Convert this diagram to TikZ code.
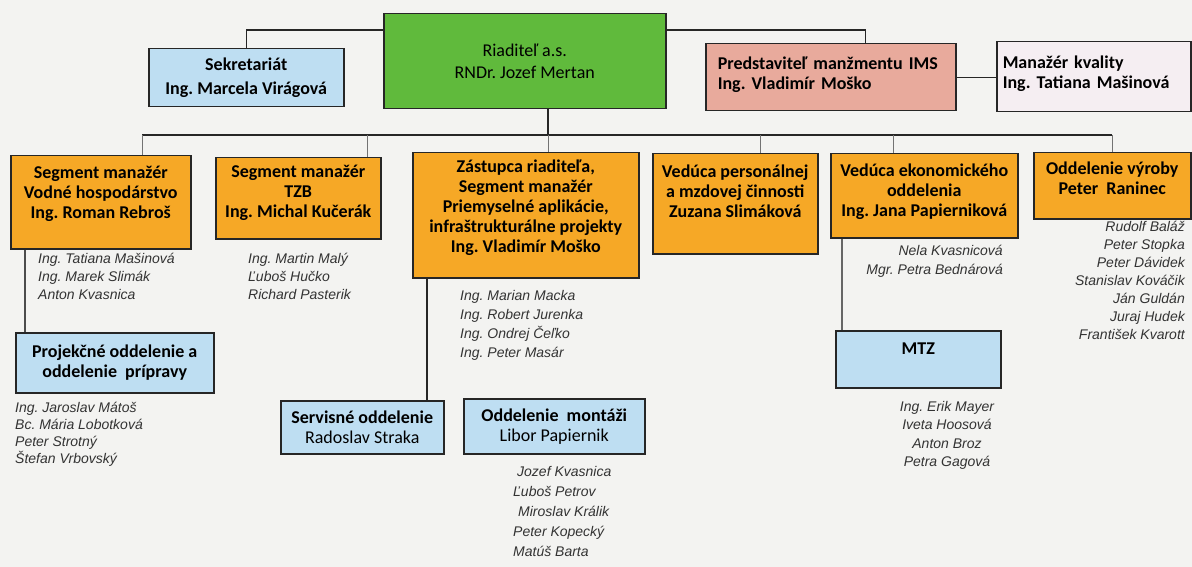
\documentclass[tikz,border=0pt]{standalone}
\usepackage{fontspec}
\setmainfont{Carlito}
\newfontfamily\stafffont{Liberation Sans}
\frenchspacing
\definecolor{paper}{RGB}{243,243,241}
\definecolor{dirgreen}{RGB}{96,186,60}
\definecolor{segorange}{RGB}{246,168,38}
\definecolor{deptblue}{RGB}{190,222,242}
\definecolor{imssalmon}{RGB}{232,170,156}
\definecolor{qualpink}{RGB}{245,238,242}

\begin{document}
\begin{tikzpicture}[x=1pt,y=-1pt,
          box/.style={draw=black!85,line width=1.5pt,anchor=north west,align=center,inner sep=4pt,
            font=\fontsize{18}{20}\selectfont\bfseries},
          orange box/.style={box,fill=segorange},
          blue box/.style={box,fill=deptblue},
          wh/.style 2 args={minimum width=#1,minimum height=#2},
          lift/.style={text depth=#1},
          staff/.style={font=\stafffont\itshape\fontsize{14}{15}\selectfont,text=black!80,inner sep=0pt,
            text height=10pt,text depth=3pt},
          link/.style={line width=1.4pt,draw=black!85},
          drop/.style={line width=0.8pt,draw=black!55}
        ]
        \fill[paper] (0,0) rectangle (1192,567);
        \useasboundingbox (0,0) rectangle (1192,567);
        % top row
        \node[blue box,wh={195}{58},font=\fontsize{18}{24}\selectfont\bfseries] (sekr) at (148,48) {Sekretariát\\Ing. Marcela Virágová};
        \node[box,fill=dirgreen,wh={282}{95},font=\fontsize{18}{22}\selectfont] (riad) at (383,13) {Riaditeľ a.s.\\RNDr. Jozef Mertan};
        \node[box,fill=imssalmon,text width=226,align=left,minimum height=67,inner xsep=12pt,lift=29pt] (ims) at (705,43) {Predstaviteľ manžmentu IMS\\Ing. Vladimír Moško};
        \node[box,fill=qualpink,text width=182,align=left,minimum height=70,inner xsep=6pt,lift=29pt] (kval) at (996,41) {Manažér kvality\\Ing. Tatiana Mašinová};
        % segments
        \node[orange box,wh={180}{93},lift=20pt] (vodne) at (10,155) {Segment manažér\\Vodné hospodárstvo\\Ing. Roman Rebroš};
        \node[orange box,wh={165}{81},lift=13pt] (tzb) at (215,157) {Segment manažér\\TZB\\Ing. Michal Kučerák};
        \node[orange box,wh={226}{125},lift=18pt] (zast) at (412,152) {Zástupca riaditeľa,\\Segment manažér\\Priemyselné aplikácie,\\infraštrukturálne projekty\\Ing. Vladimír Moško};
        \node[orange box,wh={165}{100},lift=26pt] (pers) at (652,153) {Vedúca personálnej\\a mzdovej činnosti\\Zuzana Slimáková};
        \node[orange box,wh={187}{84},lift=12pt] (ekon) at (830,153) {Vedúca ekonomického\\oddelenia\\Ing. Jana Papierniková};
        \node[orange box,wh={157}{66},lift=16pt] (vyroba) at (1033,152) {Oddelenie výroby\\Peter~~Raninec};
        % departments
        \node[blue box,wh={198}{60}] (proj) at (15,332) {Projekčné oddelenie a\\oddelenie~~prípravy};
        \node[blue box,wh={163}{53}] (serv) at (280,400) {Servisné oddelenie\\\mdseries Radoslav Straka};
        \node[blue box,wh={181}{55}] (mont) at (463,398) {Oddelenie~~montáži\\\mdseries Libor Papiernik};
        \node[blue box,wh={165}{57},lift=22pt] (mtz) at (835,330) {MTZ};
        % lines
        \coordinate (topline) at (0,30);
        \coordinate (busL) at (142,135);
        \coordinate (busR) at (1112,135);
        \draw[link] (sekr.north) |- (riad.west |- topline);
        \draw[link] (riad.east |- topline) -| ([xshift=35pt]ims.north);
        \draw[link] (ims.east) -- (ims.east -| kval.west);
        \draw[link] (548,0 |- riad.south) -- (548,0 |- busL);
        \draw[link,line width=2.2pt] (busL) -- (busR);
        \foreach\b/\x in {vodne/142,tzb/367,zast/548,pers/760,ekon/893,vyroba/1112}{
          \draw[drop] (\x,0 |- busL) -- (\x,0 |- \b.north);
        }
        \coordinate (v1) at ([xshift=15pt]vodne.south west);
        \coordinate (v2) at ([xshift=15pt]zast.south west);
        \coordinate (v3) at ([xshift=12pt]ekon.south west);
        \draw[link,draw=black!70] (v1) -- (v1 |- proj.north);
        \draw[link,draw=black!85] (v2) -- (v2 |- serv.north);
        \draw[link,draw=black!60] (v3) -- (v3 |- mtz.north);
        % staff
        \foreach\n [count=\i] in {Ing. Tatiana Mašinová,Ing. Marek Slimák,Anton Kvasnica}{\node[staff,anchor=west] (vodne-\i) at (38,242+18*\i) {\n};}
        \foreach\n [count=\i] in {Ing. Martin Malý,Ľuboš Hučko,Richard Pasterik}{\node[staff,anchor=west] (tzb-\i) at (248,242+18*\i) {\n};}
        \foreach\n [count=\i] in {Ing. Marian Macka,Ing. Robert Jurenka,Ing. Ondrej Čeľko,Ing. Peter Masár}{\node[staff,anchor=west] (zast-\i) at (460,278+19*\i) {\n};}
        \foreach\n [count=\i] in {Nela Kvasnicová,Mgr. Petra Bednárová}{\node[staff,anchor=east] (ekon-\i) at (1003,233+19*\i) {\n};}
        \foreach\n [count=\i] in {Rudolf Baláž,Peter Stopka,Peter Dávidek,Stanislav Kováčik,Ján Guldán,Juraj Hudek,František Kvarott}{\node[staff,anchor=east] (vyroba-\i) at (1185,210+18*\i) {\n};}
        \foreach\n [count=\i] in {Ing. Jaroslav Mátoš,Bc. Mária Lobotková,Peter Strotný,Štefan Vrbovský}{\node[staff,anchor=west] (proj-\i) at (15,392+17*\i) {\n};}
        \foreach\x/\n [count=\i] in {517/Jozef Kvasnica,513/Ľuboš Petrov,518/Miroslav Králik,513/Peter Kopecký,513/Matúš Barta}{\node[staff,anchor=west] (mont-\i) at (\x,453+20*\i) {\n};}
        \foreach\n [count=\i] in {Ing. Erik Mayer,Iveta Hoosová,Anton Broz,Petra Gagová}{\node[staff] (mtz-\i) at (947,389+18.5*\i) {\n};}
      \end{tikzpicture}
\end{document}
